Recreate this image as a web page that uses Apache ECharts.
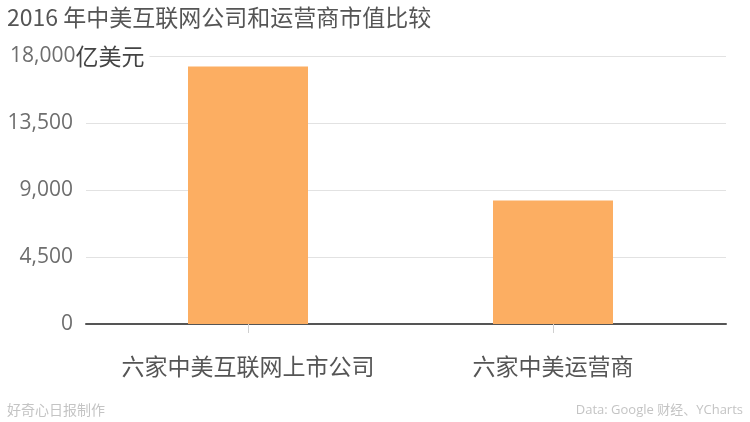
<!DOCTYPE html>
<html>
<head>
<meta charset="utf-8">
<script src="https://cdn.jsdelivr.net/npm/echarts@6/dist/echarts.min.js"></script>
<style>html,body{margin:0;padding:0;background:#fff;}#c{width:750px;height:422px;}</style>
</head>
<body>
<div id="c"></div>
<script>
const titleText = '2016 年中美互联网公司和运营商市值比较';
const categories = ['六家中美互联网上市公司', '六家中美运营商'];
const marketCap = [17300, 8300];
const yTicks = [0, 4500, 9000, 13500, 18000];
const unitLabel = '亿美元';
const sourceLeft = '好奇心日报制作';
const sourceRight = 'Data: Google 财经、YCharts';

const NUM_FONT = "'Open Sans', 'Noto Sans CJK SC', sans-serif";
const CJK_FONT = "'Noto Sans CJK SC', 'Open Sans', sans-serif";
const yMax = yTicks[yTicks.length - 1];
const yStep = yTicks[1] - yTicks[0];

const chart = echarts.init(document.getElementById('c'), null, {renderer: 'canvas'});
chart.setOption({
  backgroundColor: '#fff',
  animation: false,
  title: [
    {text: titleText, left: 7, top: 6, padding: 0,
     textStyle: {fontFamily: CJK_FONT, fontSize: 23, fontWeight: 'normal', color: '#555'}},
    {text: sourceLeft, left: 7, top: 403, padding: 0,
     textStyle: {fontFamily: CJK_FONT, fontSize: 14, fontWeight: 'normal', color: '#c4c4c4'}},
    {text: sourceRight, right: 7, top: 404, padding: 0,
     textStyle: {fontFamily: NUM_FONT, fontSize: 13, fontWeight: 'normal', color: '#c4c4c4'}}
  ],
  grid: [
    {left: 86, right: 24, top: 56, bottom: 98},
    {left: 95.5, right: 44.5, top: 56, bottom: 98}
  ],
  xAxis: [
    {type: 'category', gridIndex: 0, data: categories,
     axisLine: {show: true, lineStyle: {color: '#555', width: 2}},
     axisTick: {show: false}, axisLabel: {show: false}, splitLine: {show: false}},
    {type: 'category', gridIndex: 1, data: categories, offset: 14,
     axisLine: {show: false},
     axisTick: {show: true, interval: 0, alignWithLabel: true, length: 9, lineStyle: {color: '#d0d0d0', width: 1}},
     axisLabel: {interval: 0, fontFamily: CJK_FONT, fontSize: 23, color: '#555', margin: 17},
     splitLine: {show: false}}
  ],
  yAxis: [
    {type: 'value', gridIndex: 0, min: 0, max: yMax, interval: yStep,
     axisLine: {show: false}, axisTick: {show: false}, axisLabel: {show: false},
     splitLine: {show: true, lineStyle: {color: '#e2e2e2', width: 1}}},
    {type: 'value', gridIndex: 1, min: 0, max: yMax, interval: yStep, z: 5,
     axisLine: {show: false}, axisTick: {show: false}, splitLine: {show: false},
     axisLabel: {
       align: 'left', margin: 85.5,
       formatter: function (v) {
         const s = echarts.format.addCommas(v);
         if (v === yMax) return '{t|' + s + '}{u|' + unitLabel + '}';
         return '{n|' + s + '}';
       },
       rich: {
         n: {fontFamily: NUM_FONT, fontSize: 21, color: '#6e6e6e', width: 63, align: 'right'},
         t: {fontFamily: NUM_FONT, fontSize: 21, color: '#6e6e6e'},
         u: {fontFamily: CJK_FONT, fontSize: 23, color: '#444', backgroundColor: '#fff', padding: [0, 5, 0, 0]}
       }
     }}
  ],
  series: [{
    type: 'bar', xAxisIndex: 1, yAxisIndex: 1, data: marketCap, barWidth: 120,
    itemStyle: {color: '#fcae62'}, z: 3
  }]
});
</script>
</body>
</html>
